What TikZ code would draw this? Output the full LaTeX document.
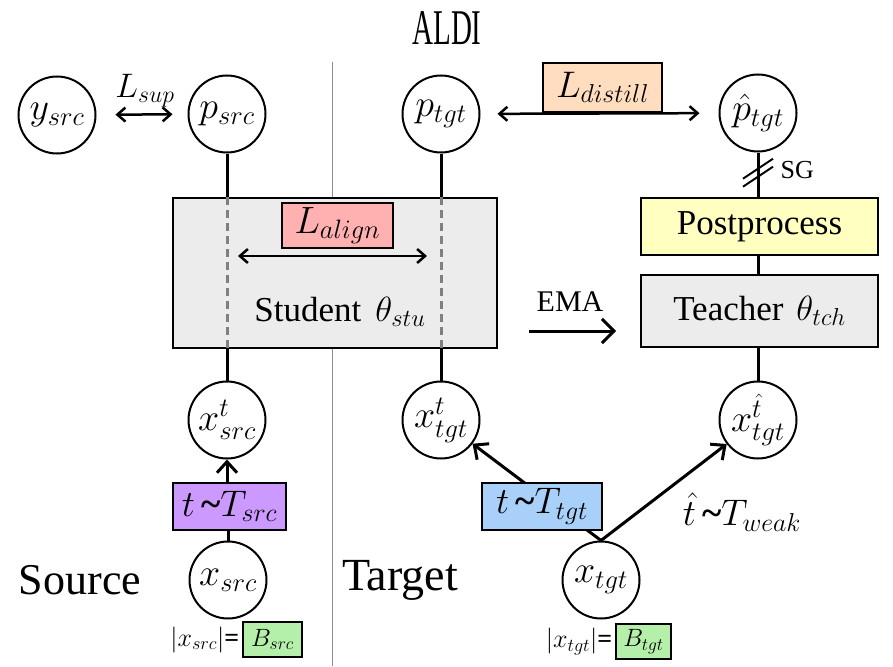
\RequirePackage{fix-cm}
\documentclass[tikz,border=0pt]{standalone}
\usepackage{fontspec}
\setmainfont{Liberation Serif}
\usepackage{graphicx}
\usetikzlibrary{arrows.meta,calc}
\definecolor{boxgray}{RGB}{236,236,236}
\definecolor{alignpink}{RGB}{255,176,176}
\definecolor{distpeach}{RGB}{255,221,190}
\definecolor{postyellow}{RGB}{255,255,192}
\definecolor{srcpurple}{RGB}{204,153,255}
\definecolor{tgtblue}{RGB}{168,208,248}
\definecolor{bgreen}{RGB}{180,240,170}
\definecolor{divgray}{RGB}{140,140,140}
\definecolor{dashgray}{RGB}{128,128,128}
\newcommand{\tld}{\textbf{\textasciitilde}}
\begin{document}
\begin{tikzpicture}[x=1pt,y=-1pt,
  circ/.style={circle, draw, line width=2pt, minimum size=77pt, inner sep=0pt, font=\fontsize{38}{42}\selectfont},
  gbox/.style={draw, line width=1.2pt, fill=boxgray, inner sep=0pt},
  lbox/.style={draw, line width=1.2pt, inner sep=0pt, font=\fontsize{37}{42}\selectfont},
  sbox/.style={draw, line width=1.2pt, inner sep=0pt, font=\fontsize{25}{28}\selectfont},
  conn/.style={line width=3pt},
  dashline/.style={line width=3pt, dashgray, dash pattern=on 8pt off 5pt},
  dblarr/.style={line width=2.5pt, {Straight Barb[length=8pt,width=14pt]}-{Straight Barb[length=8pt,width=14pt]}},
  bigarr/.style={line width=3pt, -{Straight Barb[length=11pt,width=20pt]}},
  emaarr/.style={line width=3pt, -{Straight Barb[length=12pt,width=24pt]}}
]
\useasboundingbox (0,0) rectangle (893,666);

% title and region labels
\node[font=\fontsize{50}{54}\selectfont] (title) at (447,28) {\scalebox{0.58}[1]{ALDI}};
\node[font=\fontsize{44}{48}\selectfont] (source) at (80,580) {Source};
\node[font=\fontsize{46}{50}\selectfont] (target) at (400,580) {Target};

% divider
\coordinate (dtop) at (332,62);
\coordinate (dbot) at (332,666);
\draw[divgray, line width=1pt] (dtop) -- (dbot);

% circles
\node[circ] (ysrc) at (57,115) {$y_{src}$};
\node[circ] (psrc) at (227,114) {$p_{src}$};
\node[circ] (ptgt) at (441,114) {$p_{tgt}$};
\node[circ] (phat) at (758,113) {$\hat{p}_{tgt}$};
\node[circ] (xsrct) at (227,420) {$x^{t}_{src}$};
\node[circ] (xtgtt) at (441,420) {$x^{t}_{tgt}$};
\node[circ] (xhat) at (758,420) {$x^{\hat{t}}_{tgt}$};
\node[circ] (xsrc) at (228,580) {$x_{src}$};
\node[circ] (xtgt) at (601,580) {$x_{tgt}$};

% student box
\node[gbox, minimum width=324pt, minimum height=150pt] (stu) at (335,273) {};
\draw[conn] (psrc) -- (psrc |- stu.north);
\draw[conn] (ptgt) -- (ptgt |- stu.north);
\draw[dashline] (psrc |- stu.north) -- (psrc |- stu.south);
\draw[dashline] (ptgt |- stu.north) -- (ptgt |- stu.south);
\draw[conn] (xsrct) -- (xsrct |- stu.south);
\draw[conn] (xtgtt) -- (xtgtt |- stu.south);
\node[lbox, fill=alignpink, minimum width=111pt, minimum height=45pt, font=\fontsize{38}{42}\selectfont] (Lalign) at (337.5,225.5) {$L_{align}$};
\coordinate (al1) at (227,256);
\coordinate (al2) at (441,256);
\draw[dblarr, shorten <=11pt, shorten >=14pt] (al1) -- (al2);
\node[font=\fontsize{35}{40}\selectfont] (stulab) at (340,312) {Student\hspace{14pt}$\theta_{stu}$};

% supervised loss
\node[font=\fontsize{34}{38}\selectfont] (Lsup) at (145,91) {$L_{sup}$};
\draw[dblarr, shorten <=19pt, shorten >=15pt] (ysrc) -- (psrc);

% distillation loss
\node[lbox, fill=distpeach, minimum width=119pt, minimum height=49pt] (Ldist) at (602.5,87.5) {$L_{distill}$};
\draw[dblarr, shorten <=17pt, shorten >=19pt] (ptgt) -- (phat);

% teacher side
\node[gbox, fill=postyellow, minimum width=237pt, minimum height=57pt, font=\fontsize{35}{40}\selectfont] (post) at (759.5,226.5) {Postprocess};
\node[gbox, minimum width=237pt, minimum height=72pt, font=\fontsize{35}{40}\selectfont] (teach) at (759.5,311) {Teacher\hspace{13pt}$\theta_{tch}$};
\draw[conn] (phat) -- (phat |- post.north);
\draw[conn] (phat |- post.south) -- (phat |- teach.north);
\draw[conn] (xhat) -- (xhat |- teach.south);
\coordinate (sgc) at ($(phat.south)!0.45!(phat |- post.north)$);
\draw[line width=2pt] ([shift={(-15,14)}]sgc) -- ([shift={(15,-6)}]sgc);
\draw[line width=2pt] ([shift={(-15,6)}]sgc) -- ([shift={(15,-14)}]sgc);
\node[anchor=west, font=\fontsize{26}{30}\selectfont] (sg) at (777,170) {SG};

% EMA
\coordinate (ema1) at (529,331);
\coordinate (ema2) at (616,331);
\draw[emaarr] (ema1) -- (ema2);
\node[font=\fontsize{30}{34}\selectfont] (ema) at (570,302) {EMA};

% source augmentation
\node[lbox, fill=srcpurple, minimum width=113pt, minimum height=47pt] (Tsrc) at (229.5,506.5) {$t$\,\tld$T_{src}$};
\draw[bigarr] (Tsrc.north -| xsrct) -- (xsrct);
\draw[conn] (xsrc) -- (xsrc |- Tsrc.south);

% target augmentation
\draw[bigarr] (xtgt.north) -- (xtgtt);
\draw[bigarr] (xtgt.north) -- (xhat);
\node[lbox, fill=tgtblue, minimum width=120pt, minimum height=47pt] (Ttgt) at (542,506.5) {$t$\,\tld$T_{tgt}$};
\node[font=\fontsize{37}{42}\selectfont] (tweak) at (742,512) {$\hat{t}$\,\tld$T_{weak}$};

% batch sizes
\node[sbox, fill=bgreen, minimum width=59pt, minimum height=35pt] (Bsrc) at (272.5,639.5) {$B_{src}$};
\node[anchor=east, inner sep=0pt, font=\fontsize{26}{30}\selectfont] (asrc) at ([xshift=-3pt]Bsrc.west) {$|x_{src}|$\textbf{=}};
\node[sbox, fill=bgreen, minimum width=55pt, minimum height=35pt] (Btgt) at (643.5,641.5) {$B_{tgt}$};
\node[anchor=east, inner sep=0pt, font=\fontsize{26}{30}\selectfont] (atgt) at ([xshift=-3pt]Btgt.west) {$|x_{tgt}|$\textbf{=}};
\end{tikzpicture}
\end{document}
